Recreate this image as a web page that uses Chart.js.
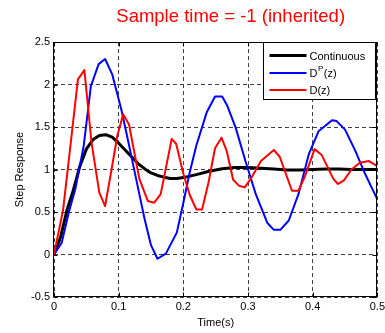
<!DOCTYPE html>
<html>
<head>
<meta charset="utf-8">
<script src="https://cdn.jsdelivr.net/npm/chart.js@4.4.0/dist/chart.umd.min.js"></script>
<style>
  html, body { margin: 0; padding: 0; overflow: hidden; background: #ffffff; }
</style>
</head>
<body>
<canvas id="stepChart" width="388" height="333"></canvas>
<script>
// continuous response
const contTime = [0, 0.01, 0.02, 0.03, 0.04, 0.05, 0.06, 0.07, 0.08, 0.09, 0.1, 0.11, 0.12, 0.13, 0.14, 0.15,
  0.16, 0.17, 0.18, 0.19, 0.2, 0.22, 0.24, 0.26, 0.28, 0.3, 0.32, 0.34, 0.36, 0.38, 0.4, 0.42, 0.44, 0.46, 0.48, 0.5];
const contResp = [0, 0.2, 0.52, 0.76, 1.04, 1.24, 1.35, 1.40, 1.41, 1.38, 1.31, 1.23, 1.15, 1.07, 1.01, 0.96,
  0.93, 0.91, 0.895, 0.895, 0.905, 0.94, 0.98, 1.01, 1.025, 1.025, 1.015, 1.005, 0.995, 0.995, 1.0, 1.005, 1.005, 1.0, 1.0, 1.0];

// D^P(z) response
const dpTime = [0, 0.012, 0.023, 0.033, 0.046, 0.057, 0.069, 0.079, 0.09, 0.104, 0.114, 0.127, 0.14, 0.15, 0.16,
  0.173, 0.19, 0.2, 0.21, 0.22, 0.236, 0.249, 0.26, 0.268, 0.281, 0.296, 0.312, 0.33, 0.34, 0.35, 0.363, 0.378,
  0.394, 0.409, 0.43, 0.437, 0.45, 0.466, 0.481, 0.491, 0.5];
const dpResp = [0, 0.14, 0.5, 0.77, 1.28, 1.98, 2.24, 2.30, 2.12, 1.71, 1.36, 0.89, 0.42, 0.11, -0.05,
  0.01, 0.26, 0.61, 0.97, 1.28, 1.67, 1.86, 1.86, 1.75, 1.49, 1.10, 0.71, 0.37, 0.29, 0.29, 0.40, 0.71,
  1.18, 1.45, 1.58, 1.57, 1.47, 1.22, 0.95, 0.79, 0.65];

// D(z) response
const dTime = [0, 0.014, 0.026, 0.037, 0.047, 0.058, 0.07, 0.079, 0.089, 0.098, 0.107, 0.116, 0.132, 0.145, 0.155,
  0.165, 0.182, 0.189, 0.2, 0.21, 0.22, 0.229, 0.239, 0.249, 0.259, 0.267, 0.277, 0.286, 0.295, 0.305, 0.32,
  0.34, 0.349, 0.368, 0.378, 0.388, 0.403, 0.414, 0.432, 0.439, 0.448, 0.46, 0.473, 0.487, 0.5];
const dResp = [0, 0.52, 1.32, 2.06, 2.17, 1.32, 0.73, 0.57, 1.0, 1.40, 1.65, 1.53, 0.89, 0.63, 0.61,
  0.71, 1.36, 1.30, 0.95, 0.70, 0.53, 0.53, 0.85, 1.25, 1.375, 1.22, 0.88, 0.81, 0.79, 0.90, 1.10,
  1.23, 1.15, 0.75, 0.75, 0.92, 1.24, 1.17, 0.89, 0.83, 0.87, 1.0, 1.08, 1.10, 1.04];

const seriesNames = ['Continuous', 'D^P(z)', 'D(z)'];
const xTicks = [0, 0.1, 0.2, 0.3, 0.4, 0.5];
const yTicks = [-0.5, 0, 0.5, 1, 1.5, 2, 2.5];

function toPoints(ts, vs) {
  return ts.map((t, i) => ({x: t, y: vs[i]}));
}

function fmtTick(v) {
  return String(Math.round(v * 10) / 10);
}

Chart.defaults.font.family = '"Liberation Sans", Arial, sans-serif';
Chart.defaults.font.size = 11;
Chart.defaults.color = '#000000';

// nudge the title a bit to the right, like the matlab figure
const titleShift = {
  id: 'titleShift',
  afterLayout(chart) {
    if (chart.titleBlock) {
      chart.titleBlock.left += 15;
      chart.titleBlock.right += 15;
    }
  }
};

// solid box round the axes, with inward tick marks
const frameBox = {
  id: 'frameBox',
  afterDatasetsDraw(chart) {
    const {ctx, chartArea: a, scales} = chart;
    const l = Math.round(a.left) - 0.5, r = Math.round(a.right) - 0.5;
    const t = Math.round(a.top) + 0.5, b = Math.round(a.bottom) - 0.5;
    ctx.save();
    ctx.strokeStyle = '#000';
    ctx.lineWidth = 1;
    ctx.setLineDash([]);
    ctx.strokeRect(l, t, r - l, b - t);
    ctx.beginPath();
    xTicks.forEach(v => {
      const px = Math.round(scales.x.getPixelForValue(v)) + 0.5;
      ctx.moveTo(px, b); ctx.lineTo(px, b - 4);
      ctx.moveTo(px, t); ctx.lineTo(px, t + 4);
    });
    yTicks.forEach(v => {
      const py = Math.round(scales.y.getPixelForValue(v)) + 0.5;
      ctx.moveTo(l, py); ctx.lineTo(l + 4, py);
      ctx.moveTo(r, py); ctx.lineTo(r - 4, py);
    });
    ctx.stroke();
    ctx.restore();
  }
};

// matlab style legend box in the top right corner
const boxLegend = {
  id: 'boxLegend',
  afterDraw(chart) {
    const {ctx, chartArea: a} = chart;
    const w = 112, h = 57;
    const x0 = Math.round(a.right) - 2 - w + 0.5;
    const y0 = Math.round(a.top) + 0.5;
    ctx.save();
    ctx.fillStyle = '#fff';
    ctx.fillRect(x0, y0, w, h);
    ctx.strokeStyle = '#000';
    ctx.lineWidth = 1;
    ctx.strokeRect(x0, y0, w, h);
    ctx.textBaseline = 'middle';
    ctx.textAlign = 'left';
    const rows = [13, 30.5, 47.5];
    chart.data.datasets.forEach((ds, i) => {
      const y = y0 + rows[i];
      ctx.beginPath();
      ctx.strokeStyle = ds.borderColor;
      ctx.lineWidth = ds.borderWidth;
      ctx.moveTo(x0 + 6, y);
      ctx.lineTo(x0 + 43, y);
      ctx.stroke();
      ctx.fillStyle = '#000';
      let x = x0 + 46;
      const m = ds.label.match(/^(.*)\^(.)(.*)$/);
      if (m) {
        ctx.font = '11px "Liberation Sans", Arial, sans-serif';
        ctx.fillText(m[1], x, y + 1);
        x += ctx.measureText(m[1]).width;
        ctx.font = '8px "Liberation Sans", Arial, sans-serif';
        ctx.fillText(m[2], x + 0.5, y - 4);
        x += ctx.measureText(m[2]).width + 1;
        ctx.font = '11px "Liberation Sans", Arial, sans-serif';
        ctx.fillText(m[3], x, y + 1);
      } else {
        ctx.font = '11px "Liberation Sans", Arial, sans-serif';
        ctx.fillText(ds.label, x, y + 1);
      }
    });
    ctx.restore();
  }
};

const stepChart = new Chart(document.getElementById('stepChart'), {
  type: 'line',
  data: {
    datasets: [
      {
        label: seriesNames[0],
        data: toPoints(contTime, contResp),
        borderColor: '#000000',
        borderWidth: 3,
        order: 2
      },
      {
        label: seriesNames[1],
        data: toPoints(dpTime, dpResp),
        borderColor: '#0000ff',
        borderWidth: 2,
        order: 1
      },
      {
        label: seriesNames[2],
        data: toPoints(dTime, dResp),
        borderColor: '#ff0000',
        borderWidth: 2,
        order: 0
      }
    ]
  },
  options: {
    responsive: false,
    animation: false,
    layout: {padding: {left: 0, right: 9, top: 0, bottom: 0}},
    elements: {
      point: {radius: 0, hoverRadius: 0},
      line: {tension: 0, fill: false, borderJoinStyle: 'round'}
    },
    plugins: {
      legend: {display: false},
      tooltip: {enabled: false},
      title: {
        display: true,
        text: 'Sample time = -1 (inherited)',
        color: '#ff0000',
        fullSize: false,
        font: {size: 18.5, weight: 'normal', lineHeight: 1.17},
        padding: {top: 6, bottom: 14.4}
      }
    },
    scales: {
      x: {
        type: 'linear',
        min: 0,
        max: 0.5,
        afterFit: (s) => { s.height = 36; },
        afterBuildTicks: (s) => { s.ticks = xTicks.map(v => ({value: v})); },
        ticks: {padding: 3, maxRotation: 0, callback: fmtTick},
        grid: {color: '#404040', lineWidth: 1, drawTicks: false},
        border: {display: false, dash: [4, 3]},
        title: {display: true, text: 'Time(s)', font: {size: 11}, padding: {top: 0, bottom: 3.4}}
      },
      y: {
        type: 'linear',
        min: -0.5,
        max: 2.5,
        afterFit: (s) => { s.width = 54; },
        afterBuildTicks: (s) => { s.ticks = yTicks.map(v => ({value: v})); },
        ticks: {padding: 4, callback: fmtTick},
        grid: {color: '#404040', lineWidth: 1, drawTicks: false},
        border: {display: false, dash: [4, 3]},
        title: {display: true, text: 'Step Response', font: {size: 11}, padding: {top: 13, bottom: 0}}
      }
    }
  },
  plugins: [titleShift, frameBox, boxLegend]
});
</script>
</body>
</html>
